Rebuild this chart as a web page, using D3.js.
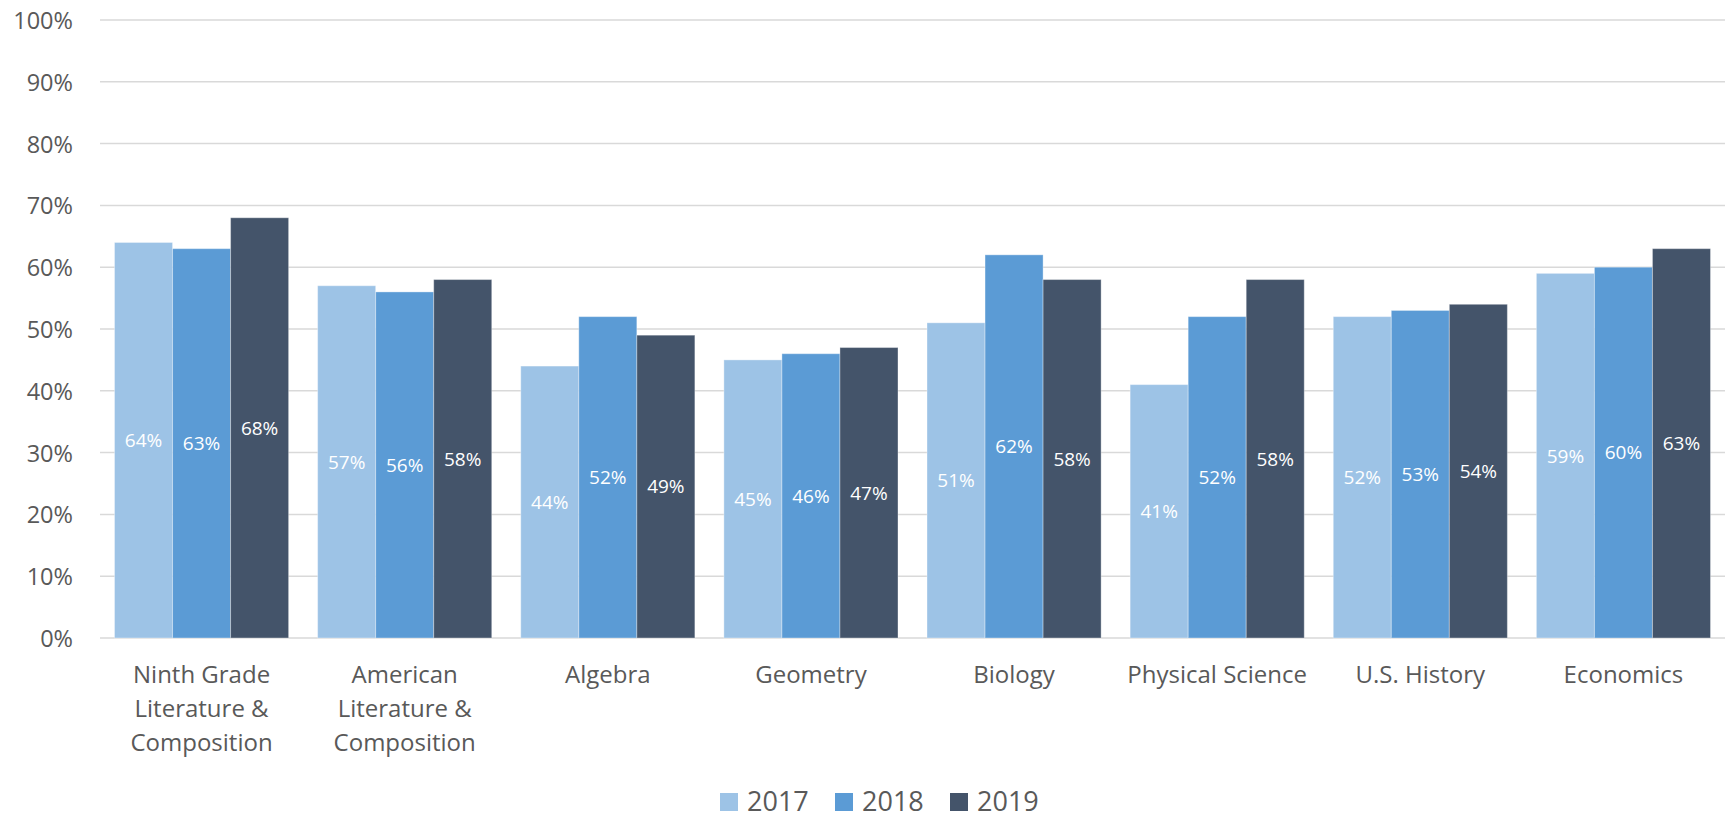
<!DOCTYPE html>
<html><head><meta charset="utf-8">
<script src="https://cdn.jsdelivr.net/npm/d3@7"></script>
<style>
html,body{margin:0;padding:0;background:#fff;}
svg{display:block;font-family:"Open Sans",sans-serif;}
</style></head>
<body><svg id="chart" width="1725" height="819"></svg>
<script>
const categories = [
  ["Ninth Grade","Literature &","Composition"],
  ["American","Literature &","Composition"],
  ["Algebra"],
  ["Geometry"],
  ["Biology"],
  ["Physical Science"],
  ["U.S. History"],
  ["Economics"]
];
const seriesNames = ["2017","2018","2019"];
const values2017 = [64,57,44,45,51,41,52,59];
const values2018 = [63,56,52,46,62,52,53,60];
const values2019 = [68,58,49,47,58,58,54,63];
const yTicks = [0,10,20,30,40,50,60,70,80,90,100];
const colors = ["#9DC3E6","#5B9BD5","#44546A"];

(function(){
const series = [values2017, values2018, values2019];
const svg = d3.select("#chart");
const pLeft = 100, pRight = 1725, pTop = 20, pBottom = 638;

const x0 = d3.scaleBand().domain(d3.range(categories.length)).range([pLeft, pRight]).paddingInner(0).paddingOuter(0);
const step = x0.bandwidth();
const barW = step / 3.5;
const x1 = d3.scaleBand().domain(d3.range(3)).range([barW*0.25, barW*3.25]);
const y = d3.scaleLinear().domain([0,100]).range([pBottom, pTop]);

svg.append("g").selectAll("line").data(yTicks).join("line")
  .attr("x1", pLeft).attr("x2", pRight)
  .attr("y1", d => y(d)).attr("y2", d => y(d))
  .attr("stroke", "#d9d9d9").attr("stroke-width", 1.5);

const yAxis = d3.axisLeft(y).tickValues(yTicks).tickFormat(d => d + "%").tickSize(0).tickPadding(0);
const ya = svg.append("g").attr("transform", `translate(73,0)`).call(yAxis);
ya.select(".domain").remove();
ya.selectAll("text").attr("fill", "#595959").attr("font-size", 23.5).attr("font-family", "Open Sans, sans-serif").attr("dy", "0.36em");

const groups = svg.append("g").selectAll("g").data(categories).join("g")
  .attr("transform", (d,i) => `translate(${x0(i)},0)`);
groups.each(function(c, i) {
  const g = d3.select(this);
  series.forEach((s, k) => {
    g.append("rect")
      .attr("x", x1(k)).attr("width", x1.bandwidth())
      .attr("y", y(s[i])).attr("height", y(0) - y(s[i]))
      .attr("fill", colors[k])
      .attr("stroke", "rgba(255,255,255,0.35)").attr("stroke-width", 1);
    g.append("text")
      .attr("x", x1(k) + x1.bandwidth()/2)
      .attr("y", (y(s[i]) + y(0))/2)
      .attr("dy", "0.36em")
      .attr("text-anchor", "middle")
      .attr("fill", "#fff").attr("font-size", 19)
      .text(s[i] + "%");
  });
});

const cat = svg.append("g");
categories.forEach((lines, i) => {
  const t = cat.append("text")
    .attr("text-anchor", "middle")
    .attr("fill", "#595959").attr("font-size", 24);
  lines.forEach((ln, j) => {
    t.append("tspan").attr("x", x0(i) + step/2).attr("y", 683 + j*34).text(ln);
  });
});

const legend = svg.append("g");
seriesNames.forEach((n, k) => {
  const lx = 720 + k*115;
  legend.append("rect").attr("x", lx).attr("y", 793).attr("width", 18).attr("height", 18).attr("fill", colors[k]);
  legend.append("text").attr("x", lx + 27).attr("y", 811).attr("fill", "#595959").attr("font-size", 27).text(n);
});
})();
</script>
</body></html>
